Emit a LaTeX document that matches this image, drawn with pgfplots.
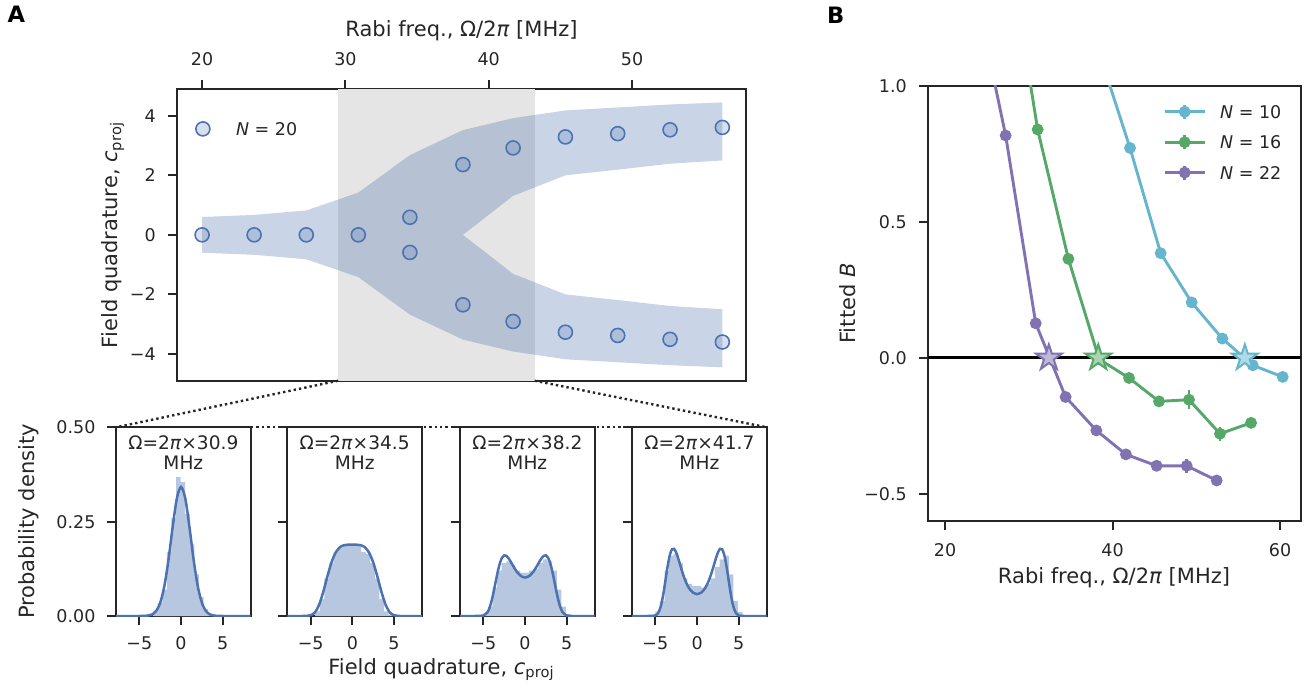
\documentclass[border=0pt]{standalone}
\usepackage{pgfplots}
\pgfplotsset{compat=1.18}
\usepackage{fontspec}
\setmainfont{DejaVu Sans}

\definecolor{cb}{HTML}{4C72B0}
\definecolor{spang}{HTML}{E5E5E5}
\definecolor{histc}{HTML}{B7C7DF}
\definecolor{cpur}{HTML}{8172B2}
\definecolor{cgrn}{HTML}{55A868}
\definecolor{ccyn}{HTML}{64B5CD}
\definecolor{txt}{HTML}{262626}

\pgfdeclareplotmark{fstar}{%
  \pgfpathmoveto{\pgfpointpolar{90}{\pgfplotmarksize}}%
  \pgfpathlineto{\pgfpointpolar{126}{0.382\pgfplotmarksize}}%
  \pgfpathlineto{\pgfpointpolar{162}{\pgfplotmarksize}}%
  \pgfpathlineto{\pgfpointpolar{198}{0.382\pgfplotmarksize}}%
  \pgfpathlineto{\pgfpointpolar{234}{\pgfplotmarksize}}%
  \pgfpathlineto{\pgfpointpolar{270}{0.382\pgfplotmarksize}}%
  \pgfpathlineto{\pgfpointpolar{306}{\pgfplotmarksize}}%
  \pgfpathlineto{\pgfpointpolar{342}{0.382\pgfplotmarksize}}%
  \pgfpathlineto{\pgfpointpolar{18}{\pgfplotmarksize}}%
  \pgfpathlineto{\pgfpointpolar{54}{0.382\pgfplotmarksize}}%
  \pgfpathclose
  \pgfusepathqfillstroke
}

\newcommand{\tfont}{\fontsize{8.75}{10.5}\selectfont}
\newcommand{\lfont}{\fontsize{10.5}{12.6}\selectfont}
\newcommand{\ttfont}{\fontsize{9.3}{11}\selectfont}
\newcommand{\bfont}{\fontsize{11.3}{13}\selectfont\bfseries}

\pgfplotsset{
  myax/.style={scale only axis, anchor=south west,
    axis line style={line width=1pt, draw=txt},
    tick style={line width=1pt, draw=txt},
    major tick length=4.5pt, tick align=outside,
    tick label style={font=\tfont, text=txt}},
  hist/.style={myax, width=67.35pt, height=94.35pt,
    xmin=-7.8, xmax=8.35, ymin=0, ymax=0.5,
    xtick={-5,0,5}, xticklabels={−5,0,5}, ytick={0,0.25,0.5},
    xtick pos=left, ytick pos=left,
    xticklabel style={yshift=-2.1pt}, yticklabel style={xshift=-2.25pt}},
  hbar/.style={const plot, fill=histc, draw=none},
  hcurve/.style={cb, line width=1.25pt, smooth},
}

\begin{document}
\begin{tikzpicture}
\useasboundingbox (0,0) rectangle (655pt,-344pt);

% ---------------- Panel A, top -----------------
\begin{axis}[myax, name=top, at={(88.5pt,-190.35pt)}, width=284.5pt, height=145.85pt,
  xmin=18.25, xmax=57.95, ymin=-4.9, ymax=4.9,
  xtick={20,30,40,50}, xticklabels={20,30,40,50}, xtick pos=right, xticklabel pos=right,
  ytick={-4,-2,0,2,4}, yticklabels={−4,−2,0,2,4}, ytick pos=left,
  xticklabel style={yshift=3.6pt}, yticklabel style={xshift=-2.6pt},
  legend style={at={(0.0325,0.8886)}, anchor=north west, draw=none, fill=none,
    font=\tfont, text=txt, inner xsep=0pt, inner ysep=0pt, column sep=13.1pt,
    nodes={inner sep=0pt, text depth=0pt}},
  legend image code/.code={\draw[#1] plot coordinates {(0pt,0pt)};},
]
\addplot[fill=spang, draw=none, forget plot] coordinates {(29.5,-6) (43.2,-6) (43.2,6) (29.5,6)};
\addplot[fill=cb, fill opacity=0.3, draw=none, forget plot] coordinates {
 (20,0.60) (23.63,0.67) (27.27,0.82) (30.9,1.42) (34.5,2.68) (38.2,3.52) (41.7,3.92) (45.35,4.18) (49.0,4.28) (52.65,4.38) (56.3,4.45)
 (56.3,2.50) (52.65,2.39) (49.0,2.19) (45.35,2.0) (41.7,1.31) (38.2,0)
 (41.7,-1.31) (45.35,-2.0) (49.0,-2.19) (52.65,-2.39) (56.3,-2.50)
 (56.3,-4.45) (52.65,-4.38) (49.0,-4.28) (45.35,-4.18) (41.7,-3.92) (38.2,-3.52) (34.5,-2.68) (30.9,-1.42) (27.27,-0.82) (23.63,-0.67) (20,-0.60)};
\addplot[only marks, mark=*, mark size=3.5pt, mark options={draw=cb, fill=cb, fill opacity=0.22, line width=0.8pt}] coordinates {
 (20,0) (23.63,0) (27.27,0) (30.9,0) (34.5,0.59) (34.5,-0.59) (38.2,2.36) (38.2,-2.35)
 (41.7,2.92) (41.7,-2.91) (45.35,3.29) (45.35,-3.27) (49.0,3.40) (49.0,-3.38)
 (52.65,3.53) (52.65,-3.51) (56.3,3.61) (56.3,-3.60)};
\addlegendentry{\textit{N} = 20}
\coordinate (zl) at (axis cs:29.5,-4.9);
\coordinate (zr) at (axis cs:43.2,-4.9);
\end{axis}

% ---------------- Panel A, histograms -----------------
\begin{axis}[hist, name=h1, at={(58pt,-308pt)}, yticklabels={0.00,0.25,0.50}]
\addplot[hbar] coordinates {(-3.35,0.012) (-2.8,0.035) (-2.25,0.07) (-1.7,0.17) (-1.15,0.26) (-0.6,0.368) (-0.05,0.355) (0.5,0.27) (1.05,0.19) (1.6,0.11) (2.15,0.05) (2.7,0.018) (3.25,0.004) (3.8,0.004)} \closedcycle;
\addplot[hcurve] coordinates {(-7.8,0) (-5,0) (-4,0.001) (-3.5,0.0039) (-3,0.0128) (-2.5,0.0349) (-2,0.0794) (-1.5,0.150) (-1,0.237) (-0.5,0.312) (0,0.342) (0.5,0.312) (1,0.237) (1.5,0.150) (2,0.0794) (2.5,0.0349) (3,0.0128) (3.5,0.0039) (4,0.001) (5,0) (8.35,0)};
\node[font=\ttfont, text=txt, anchor=base, inner sep=0pt] at (rel axis cs:0.5,0.8834) {Ω=2\textit{π}×30.9};
\node[font=\ttfont, text=txt, anchor=base, inner sep=0pt] at (rel axis cs:0.5,0.7737) {MHz};
\end{axis}

\begin{axis}[hist, name=h2, at={(143.65pt,-308pt)}, yticklabels={,,}]
\addplot[hbar] coordinates {(-4.45,0.012) (-3.9,0.045) (-3.35,0.10) (-2.8,0.14) (-2.25,0.17) (-1.7,0.18) (-1.15,0.185) (-0.6,0.19) (-0.05,0.19) (0.5,0.19) (1.05,0.17) (1.6,0.165) (2.15,0.14) (2.7,0.10) (3.25,0.045) (3.8,0.012) (4.35,0.003) (4.9,0.003)} \closedcycle;
\addplot[hcurve] coordinates {(-7.8,0) (-6,0) (-5.5,0.0002) (-5,0.002) (-4.5,0.0094) (-4,0.0291) (-3.5,0.0631) (-3,0.1046) (-2.5,0.1421) (-2,0.1681) (-1.5,0.1821) (-1,0.1876) (-0.5,0.189) (0,0.189) (0.5,0.189) (1,0.1876) (1.5,0.1821) (2,0.1681) (2.5,0.1421) (3,0.1046) (3.5,0.0631) (4,0.0291) (4.5,0.0094) (5,0.002) (5.5,0.0002) (6,0) (8.35,0)};
\node[font=\ttfont, text=txt, anchor=base, inner sep=0pt] at (rel axis cs:0.5,0.8834) {Ω=2\textit{π}×34.5};
\node[font=\ttfont, text=txt, anchor=base, inner sep=0pt] at (rel axis cs:0.5,0.7737) {MHz};
\end{axis}

\begin{axis}[hist, name=h3, at={(230pt,-308pt)}, yticklabels={,,}]
\addplot[hbar] coordinates {(-5.0,0.006) (-4.45,0.025) (-3.9,0.075) (-3.35,0.12) (-2.8,0.14) (-2.25,0.145) (-1.7,0.135) (-1.15,0.12) (-0.6,0.115) (-0.05,0.115) (0.5,0.12) (1.05,0.125) (1.6,0.14) (2.15,0.15) (2.7,0.145) (3.25,0.12) (3.8,0.07) (4.35,0.025) (4.9,0.005) (5.45,0.005)} \closedcycle;
\addplot[hcurve] coordinates {(-7.8,0) (-6,0) (-5.5,0.0001) (-5,0.0012) (-4.5,0.0102) (-4.25,0.0222) (-4,0.0410) (-3.75,0.0657) (-3.5,0.0934) (-3.25,0.1199) (-3,0.1412) (-2.75,0.1549) (-2.5,0.1606) (-2.25,0.1596) (-2,0.1537) (-1.75,0.1451) (-1.5,0.1354) (-1.25,0.126) (-1,0.1176) (-0.5,0.106) (0,0.102) (0.5,0.106) (1,0.1176) (1.25,0.126) (1.5,0.1354) (1.75,0.1451) (2,0.1537) (2.25,0.1596) (2.5,0.1606) (2.75,0.1549) (3,0.1412) (3.25,0.1199) (3.5,0.0934) (3.75,0.0657) (4,0.0410) (4.25,0.0222) (4.5,0.0102) (5,0.0012) (5.5,0.0001) (6,0) (8.35,0)};
\node[font=\ttfont, text=txt, anchor=base, inner sep=0pt] at (rel axis cs:0.5,0.8834) {Ω=2\textit{π}×38.2};
\node[font=\ttfont, text=txt, anchor=base, inner sep=0pt] at (rel axis cs:0.5,0.7737) {MHz};
\end{axis}

\begin{axis}[hist, name=h4, at={(316pt,-308pt)}, yticklabels={,,}]
\addplot[hbar] coordinates {(-5.55,0.003) (-5.0,0.012) (-4.45,0.04) (-3.9,0.12) (-3.35,0.16) (-2.8,0.165) (-2.25,0.14) (-1.7,0.10) (-1.15,0.085) (-0.6,0.08) (-0.05,0.08) (0.5,0.075) (1.05,0.085) (1.6,0.10) (2.15,0.13) (2.7,0.15) (3.25,0.16) (3.8,0.11) (4.35,0.04) (4.9,0.01) (5.45,0.01)} \closedcycle;
\addplot[hcurve] coordinates {(-7.8,0) (-6,0) (-5.5,0.0001) (-5,0.0015) (-4.75,0.0055) (-4.5,0.0154) (-4.25,0.0345) (-4,0.0639) (-3.75,0.1000) (-3.5,0.1354) (-3.25,0.1627) (-3,0.1770) (-2.75,0.1779) (-2.5,0.1681) (-2.25,0.1520) (-2,0.1334) (-1.75,0.1152) (-1.5,0.0990) (-1.25,0.0856) (-1,0.0751) (-0.75,0.0674) (-0.5,0.0621) (0,0.058) (0.5,0.0621) (0.75,0.0674) (1,0.0751) (1.25,0.0856) (1.5,0.0990) (1.75,0.1152) (2,0.1334) (2.25,0.1520) (2.5,0.1681) (2.75,0.1779) (3,0.1770) (3.25,0.1627) (3.5,0.1354) (3.75,0.1000) (4,0.0639) (4.25,0.0345) (4.5,0.0154) (4.75,0.0055) (5,0.0015) (5.5,0.0001) (6,0) (8.35,0)};
\node[font=\ttfont, text=txt, anchor=base, inner sep=0pt] at (rel axis cs:0.5,0.8834) {Ω=2\textit{π}×41.7};
\node[font=\ttfont, text=txt, anchor=base, inner sep=0pt] at (rel axis cs:0.5,0.7737) {MHz};
\end{axis}

% ---------------- Panel B -----------------
\begin{axis}[myax, name=B, at={(464pt,-260.5pt)}, width=186.35pt, height=217.5pt,
  xmin=17.97, xmax=62.47, ymin=-0.6, ymax=1.0,
  xtick={20,40,60}, xticklabels={20,40,60},
  ytick={-0.5,0,0.5,1}, yticklabels={−0.5,0.0,0.5,1.0},
  xtick pos=left, ytick pos=left,
  xticklabel style={yshift=-3.45pt}, yticklabel style={xshift=-2.6pt},
  legend style={at={(0.949,0.961)}, anchor=north east, draw=none, fill=none,
    font=\tfont, text=txt, inner xsep=0pt, inner ysep=0pt, column sep=7pt, row sep=6.75pt,
    nodes={inner sep=0pt, text depth=0pt}},
  legend cell align=left,
  legend image code/.code={%
    \draw[#1, mark=none] (0pt,0pt) -- (20pt,0pt);
    \draw[#1, mark=none] (10pt,-3.5pt) -- (10pt,3.5pt);
    \draw[#1] plot coordinates {(10pt,0pt)};},
]
\addplot[black, line width=1.5pt, forget plot] coordinates {(17.97,0) (62.47,0)};
\addplot[ccyn, line width=1.45pt, mark=*, mark size=2.2pt,
  error bars/.cd, y dir=both, y explicit, error mark=none, error bar style={line width=1.45pt, ccyn}]
  coordinates {(38.44,1.12) +- (0,0.006) (42.09,0.772) +- (0,0.008) (45.75,0.385) +- (0,0.014) (49.45,0.204) +- (0,0.008) (53.11,0.071) +- (0,0.018) (56.74,-0.027) +- (0,0.02) (60.32,-0.070) +- (0,0.008)};
\addlegendentry{\textit{N} = 10}
\addplot[cgrn, line width=1.45pt, mark=*, mark size=2.2pt,
  error bars/.cd, y dir=both, y explicit, error mark=none, error bar style={line width=1.45pt, cgrn}]
  coordinates {(27.39,1.548) +- (0,0.006) (31.06,0.840) +- (0,0.008) (34.73,0.364) +- (0,0.008) (38.4,-0.005) +- (0,0.008) (41.97,-0.074) +- (0,0.008) (45.55,-0.160) +- (0,0.01) (49.13,-0.154) +- (0,0.035) (52.83,-0.279) +- (0,0.025) (56.54,-0.239) +- (0,0.008)};
\addlegendentry{\textit{N} = 16}
\addplot[cpur, line width=1.45pt, mark=*, mark size=2.2pt,
  error bars/.cd, y dir=both, y explicit, error mark=none, error bar style={line width=1.45pt, cpur}]
  coordinates {(23.64,1.347) +- (0,0.006) (27.24,0.818) +- (0,0.008) (30.83,0.127) +- (0,0.008) (34.4,-0.144) +- (0,0.008) (38.07,-0.267) +- (0,0.008) (41.6,-0.355) +- (0,0.008) (45.27,-0.397) +- (0,0.008) (48.86,-0.397) +- (0,0.025) (52.44,-0.451) +- (0,0.008)};
\addlegendentry{\textit{N} = 22}
\addplot[only marks, mark=fstar, mark size=6.75pt, mark options={draw=cpur, fill=cpur!50!white, line width=1pt}, forget plot] coordinates {(32.4,0)};
\addplot[only marks, mark=fstar, mark size=6.75pt, mark options={draw=cgrn, fill=cgrn!50!white, line width=1pt}, forget plot] coordinates {(38.3,0)};
\addplot[only marks, mark=fstar, mark size=6.75pt, mark options={draw=ccyn, fill=ccyn!50!white, line width=1pt}, forget plot] coordinates {(55.8,0)};
\end{axis}

% connectors
\draw[txt, line width=1.2pt, dash pattern=on 1.2pt off 1.5pt] (zl) -- (h1.north west);
\draw[txt, line width=1.2pt, dash pattern=on 1.2pt off 1.5pt] (zr) -- (h4.north east);
\draw[txt, line width=1.2pt, dash pattern=on 1.2pt off 1.5pt] (h1.north west) -- (h4.north east);

% labels
\begin{scope}[x=0.5pt, y=-0.5pt]
\node[font=\bfont, text=black, anchor=base west, inner sep=0pt] at (7.3,22.7) {A};
\node[font=\bfont, text=black, anchor=base west, inner sep=0pt] at (826.7,23.3) {B};
\node[font=\lfont, text=txt, anchor=base, inner sep=0pt] at (461.5,37) {Rabi freq., Ω/2\textit{π} [MHz]};
\node[font=\lfont, text=txt, anchor=base, inner sep=0pt, rotate=90] at (117.5,235) {Field quadrature, \textit{c}\textsubscript{proj}};
\node[font=\lfont, text=txt, anchor=base, inner sep=0pt, rotate=90] at (34,521.5) {Probability density};
\node[font=\lfont, text=txt, anchor=base, inner sep=0pt] at (441.5,674) {Field quadrature, \textit{c}\textsubscript{proj}};
\node[font=\lfont, text=txt, anchor=base, inner sep=0pt] at (1114,583.3) {Rabi freq., Ω/2\textit{π} [MHz]};
\node[font=\lfont, text=txt, anchor=base, inner sep=0pt, rotate=90] at (855.5,303.5) {Fitted \textit{B}};
\end{scope}
\end{tikzpicture}
\end{document}
